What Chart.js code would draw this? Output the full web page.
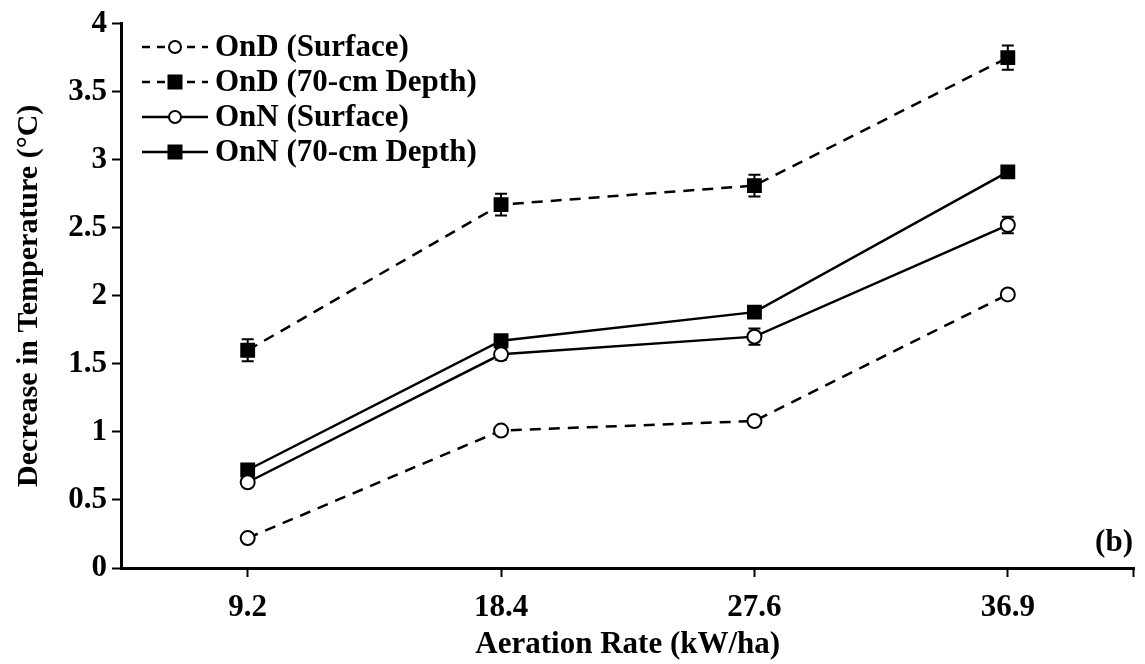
<!DOCTYPE html>
<html>
<head>
<meta charset="utf-8">
<script src="https://cdn.jsdelivr.net/npm/chart.js@4/dist/chart.umd.min.js"></script>
<style>
  html, body { margin: 0; padding: 0; background: #fff; }
  #wrap { width: 1145px; height: 664px; }
</style>
</head>
<body>
<div id="wrap"><canvas id="tempChart" width="1145" height="664"></canvas></div>
<script>
// aeration rate categories (kW/ha)
const rates = ['9.2', '18.4', '27.6', '36.9'];

// decrease in temperature (°C) and error bars
const ondSurface = [0.22, 1.01, 1.08, 2.01];
const ondSurfaceErr = [0.02, 0.02, 0.02, 0.03];
const ondDepth = [1.60, 2.67, 2.81, 3.75];
const ondDepthErr = [0.08, 0.08, 0.08, 0.09];
const onnSurface = [0.63, 1.57, 1.70, 2.52];
const onnSurfaceErr = [0.03, 0.04, 0.06, 0.06];
const onnDepth = [0.72, 1.67, 1.88, 2.91];
const onnDepthErr = [0.02, 0.03, 0.03, 0.04];

const yTicks = [0, 0.5, 1, 1.5, 2, 2.5, 3, 3.5, 4];
const yTickLabels = ['0', '0.5', '1', '1.5', '2', '2.5', '3', '3.5', '4'];

const FONT = '"Liberation Serif", "Times New Roman", serif';
const DASH = [11, 8];

function makeSet(label, data, errs, dashed, filled) {
  return {
    label: label,
    data: data,
    errors: errs,
    borderColor: '#000',
    borderWidth: 2.5,
    borderDash: dashed ? DASH : [],
    pointStyle: filled ? 'rect' : 'circle',
    pointRadius: filled ? 10.5 : 7,
    pointBorderWidth: filled ? 0 : 2,
    pointBackgroundColor: filled ? '#000' : '#fff',
    pointBorderColor: '#000',
    tension: 0,
    fill: false
  };
}

// error bars drawn under the markers
const errorBars = {
  id: 'errorBars',
  beforeDatasetsDraw(chart) {
    const ctx = chart.ctx;
    const y = chart.scales.y;
    ctx.save();
    ctx.strokeStyle = '#000';
    ctx.lineWidth = 2;
    chart.data.datasets.forEach((ds, i) => {
      const meta = chart.getDatasetMeta(i);
      meta.data.forEach((pt, j) => {
        const e = ds.errors[j];
        const top = y.getPixelForValue(ds.data[j] + e);
        const bot = y.getPixelForValue(ds.data[j] - e);
        ctx.beginPath();
        ctx.moveTo(pt.x, top); ctx.lineTo(pt.x, bot);
        ctx.moveTo(pt.x - 6, top); ctx.lineTo(pt.x + 6, top);
        ctx.moveTo(pt.x - 6, bot); ctx.lineTo(pt.x + 6, bot);
        ctx.stroke();
      });
    });
    ctx.restore();
  }
};

// legend with line + marker samples, the panel tag and the end tick
const sideText = {
  id: 'sideText',
  afterDraw(chart) {
    const ctx = chart.ctx;
    const area = chart.chartArea;
    ctx.save();
    // closing tick at the right end of the x axis
    ctx.strokeStyle = '#000';
    ctx.lineWidth = 2;
    ctx.beginPath();
    ctx.moveTo(area.right - 1, area.bottom);
    ctx.lineTo(area.right - 1, area.bottom + 9);
    ctx.stroke();

    const rows = [47, 82, 117, 152];
    chart.data.datasets.forEach((ds, i) => {
      const yy = rows[i];
      ctx.strokeStyle = '#000';
      ctx.lineWidth = 2.5;
      ctx.setLineDash(ds.borderDash.length ? [8, 7] : []);
      ctx.beginPath();
      ctx.moveTo(142, yy); ctx.lineTo(208, yy);
      ctx.stroke();
      ctx.setLineDash([]);
      if (ds.pointStyle === 'rect') {
        ctx.fillStyle = '#000';
        ctx.fillRect(175 - 7.5, yy - 7.5, 15, 15);
      } else {
        ctx.fillStyle = '#fff';
        ctx.lineWidth = 2;
        ctx.beginPath();
        ctx.arc(175, yy, 6, 0, Math.PI * 2);
        ctx.fill(); ctx.stroke();
      }
      ctx.fillStyle = '#000';
      ctx.font = 'bold 31px ' + FONT;
      ctx.textAlign = 'left';
      ctx.textBaseline = 'middle';
      ctx.fillText(ds.label, 215, yy + 1);
    });
    ctx.font = 'bold 31px ' + FONT;
    ctx.textAlign = 'right';
    ctx.textBaseline = 'middle';
    ctx.fillText('(b)', 1133, 543);
    ctx.restore();
  }
};

const ctx = document.getElementById('tempChart').getContext('2d');
const tempChart = new Chart(ctx, {
  type: 'line',
  data: {
    labels: rates,
    datasets: [
      makeSet('OnD (Surface)', ondSurface, ondSurfaceErr, true, false),
      makeSet('OnD (70-cm Depth)', ondDepth, ondDepthErr, true, true),
      makeSet('OnN (Surface)', onnSurface, onnSurfaceErr, false, false),
      makeSet('OnN (70-cm Depth)', onnDepth, onnDepthErr, false, true)
    ]
  },
  options: {
    responsive: false,
    animation: false,
    devicePixelRatio: 1,
    layout: { padding: { top: 21, right: 2, left: 0, bottom: 0 } },
    plugins: {
      legend: { display: false },
      tooltip: { enabled: false }
    },
    scales: {
      x: {
        type: 'category',
        offset: true,
        grid: {
          offset: false,
          drawOnChartArea: false,
          drawTicks: true,
          tickLength: 9,
          tickWidth: 2,
          tickColor: '#000'
        },
        border: { display: true, color: '#000', width: 3 },
        ticks: {
          color: '#000',
          padding: 12,
          font: { family: FONT, size: 31, weight: 'bold' }
        },
        title: {
          display: true,
          text: 'Aeration Rate (kW/ha)',
          color: '#000',
          padding: { top: 0, bottom: 0 },
          font: { family: FONT, size: 31, weight: 'bold' }
        },
        afterFit(scale) { scale.height = 96; }
      },
      y: {
        min: 0,
        max: 4,
        afterBuildTicks(scale) { scale.ticks = yTicks.map(v => ({ value: v })); },
        grid: {
          drawOnChartArea: false,
          drawTicks: true,
          tickLength: 9,
          tickWidth: 2,
          tickColor: '#000'
        },
        border: { display: true, color: '#000', width: 3 },
        ticks: {
          color: '#000',
          padding: 5,
          font: { family: FONT, size: 31, weight: 'bold' },
          callback: (v) => yTickLabels[yTicks.indexOf(v)]
        },
        title: {
          display: true,
          text: 'Decrease in Temperature (°C)',
          color: '#000',
          padding: { top: 11, bottom: 0 },
          font: { family: FONT, size: 30, weight: 'bold' }
        },
        afterFit(scale) { scale.width = 121; }
      }
    }
  },
  plugins: [errorBars, sideText]
});
</script>
</body>
</html>
